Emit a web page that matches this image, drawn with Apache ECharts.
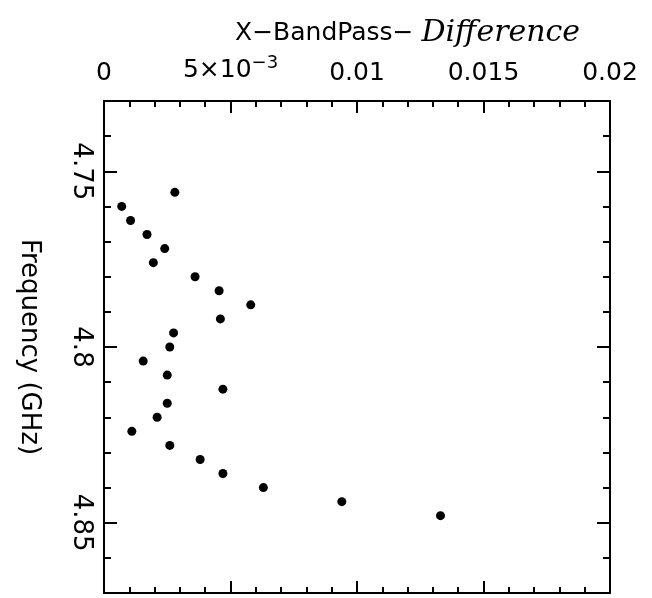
<!DOCTYPE html>
<html><head><meta charset="utf-8">
<script src="https://cdn.jsdelivr.net/npm/echarts@6/dist/echarts.min.js"></script>
<style>html,body{margin:0;padding:0;background:#fff}#c{width:652px;height:598px}</style>
</head><body><div id="c"></div>
<script>
// Frequency (GHz) on vertical axis, X-BandPass difference on horizontal axis
const freq = [4.756,4.760,4.764,4.768,4.772,4.776,4.780,4.784,4.788,4.792,4.796,4.800,4.804,4.808,4.812,4.816,4.820,4.824,4.828,4.832,4.836,4.840,4.844,4.848];
const diff = [0.0028,0.0007,0.00105,0.0017,0.0024,0.00195,0.0036,0.00455,0.0058,0.0046,0.00275,0.0026,0.00155,0.0025,0.0047,0.0025,0.0021,0.0011,0.0026,0.0038,0.0047,0.0063,0.0094,0.0133];
const yMajorTicks = [4.75,4.8,4.85];
const yMinorTicks = [4.74,4.75,4.76,4.77,4.78,4.79,4.80,4.81,4.82,4.83,4.84,4.85,4.86];
const xLabelText = {0:'0',0.005:'{n|5×10}{s|−3}',0.01:'0.01',0.015:'0.015',0.02:'0.02'};

const FONT = 'DejaVu Sans';
const FS = 25;
const lineSt = {color:'#000', width:2};
const data = freq.map((f,i)=>[diff[i], f]);

function xAx(pos, labels){
  return {
    type:'value', position:pos, min:0, max:0.02, interval:0.005,
    axisLine:{show:true, onZero:false, lineStyle:lineSt},
    axisTick:{show:true, inside:true, length:12, lineStyle:lineSt},
    minorTick:{show:true, splitNumber:5, length:6, lineStyle:lineSt},
    splitLine:{show:false},
    axisLabel:{show:labels, margin:15, color:'#000', fontFamily:FONT, fontSize:FS,
      formatter:function(v){ const k = Math.round(v*1000)/1000; return xLabelText[k] !== undefined ? xLabelText[k] : ''; },
      rich:{n:{fontFamily:FONT,fontSize:FS,color:'#000'}, s:{fontFamily:FONT,fontSize:18,color:'#000',verticalAlign:'top',padding:[0,0,14,0]}}
    }
  };
}
function yAx(pos, major, labels){
  const o = {
    type:'value', position:pos, min:4.73, max:4.87, inverse:true, offset:0,
    axisLine:{show:true, onZero:false, lineStyle:lineSt},
    axisTick:{show:true, inside:true, length: major?13:7, lineStyle:lineSt, customValues: major?yMajorTicks:yMinorTicks},
    splitLine:{show:false},
    axisLabel:{show:labels, customValues:yMajorTicks, rotate:-90, margin:10, color:'#000', fontFamily:FONT, fontSize:26,
      formatter:function(v){ return String(Math.round(v*100)/100); }}
  };
  if (labels){
    o.name = 'Frequency (GHz)';
    o.nameLocation = 'middle';
    o.nameRotate = -90;
    o.nameGap = 62;
    o.nameTextStyle = {color:'#000', fontFamily:FONT, fontSize:26};
  }
  return o;
}

const chart = echarts.init(document.getElementById('c'));
chart.setOption({
  animation:false,
  backgroundColor:'#fff',
  title:{
    text:'{a|X−BandPass− }{b|Difference}',
    left:235, top:18, padding:0,
    textStyle:{fontWeight:'normal', rich:{
      a:{fontFamily:FONT, fontSize:25, fontWeight:'normal', color:'#000'},
      b:{fontFamily:'DejaVu Serif', fontStyle:'italic', fontWeight:'normal', fontSize:30, color:'#000'}
    }}
  },
  grid:{left:104, top:101, right:42, bottom:5},
  xAxis:[xAx('top', true), xAx('bottom', false)],
  yAxis:[yAx('left', false, false), yAx('left', true, true), yAx('right', false, false), yAx('right', true, false)],
  series:[{
    type:'scatter', xAxisIndex:0, yAxisIndex:0, data:data,
    symbol:'circle', symbolSize:9, itemStyle:{color:'#000', opacity:1}
  }]
});
</script>
</body></html>
